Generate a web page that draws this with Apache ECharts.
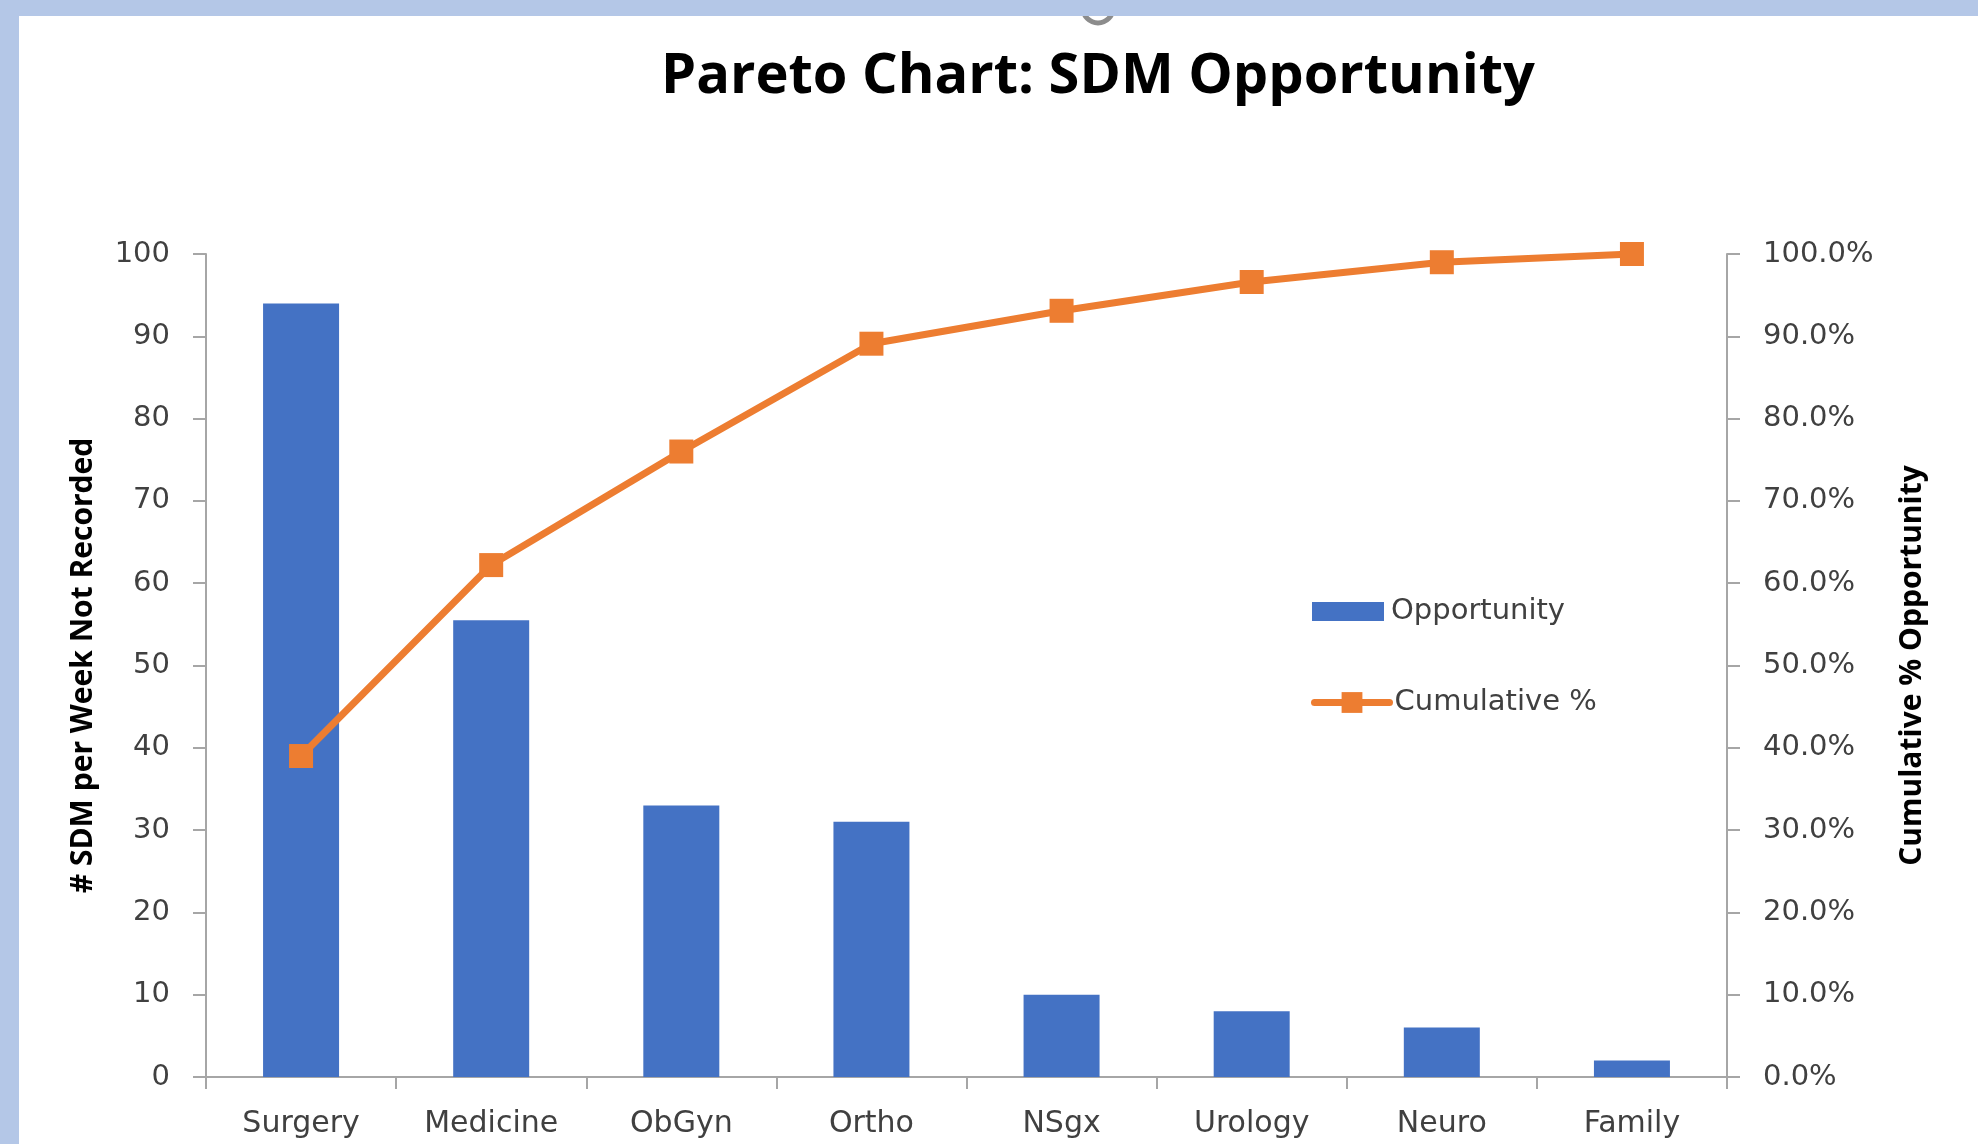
<!DOCTYPE html>
<html>
<head>
<meta charset="utf-8">
<script src="https://cdn.jsdelivr.net/npm/echarts@6/dist/echarts.min.js"></script>
<style>
html,body{margin:0;padding:0;background:#fff;}
#chart{width:1978px;height:1144px;}
</style>
</head>
<body>
<div id="chart"></div>
<script>
const categories = ['Surgery', 'Medicine', 'ObGyn', 'Ortho', 'NSgx', 'Urology', 'Neuro', 'Family'];
const opportunity = [94, 55.5, 33, 31, 10, 8, 6, 2];
const cumulativePct = [39.0, 62.2, 76.0, 89.1, 93.1, 96.6, 99.0, 100.0];
const leftTicks = [0, 10, 20, 30, 40, 50, 60, 70, 80, 90, 100];
const rightTicks = [0, 10, 20, 30, 40, 50, 60, 70, 80, 90, 100];

const axisGray = '#a6a6a6';
const labelColor = '#404040';
const labelFont = 'DejaVu Sans';

const chart = echarts.init(document.getElementById('chart'), null, {renderer: 'canvas'});
chart.setOption({
  backgroundColor: '#ffffff',
  animation: false,
  title: {
    text: 'Pareto Chart: SDM Opportunity',
    left: 656,
    top: 44,
    textStyle: {fontFamily: 'Open Sans', fontWeight: 'bold', fontSize: 56, color: '#000000'}
  },
  graphic: [
    {type: 'circle', shape: {cx: 1098, cy: 8, r: 15}, style: {fill: 'none', stroke: '#8c8c8c', lineWidth: 5}, z: 100},
    {type: 'rect', shape: {x: 0, y: 0, width: 1978, height: 16}, style: {fill: '#B4C7E7'}, z: 101},
    {type: 'rect', shape: {x: 0, y: 0, width: 19, height: 1144}, style: {fill: '#B4C7E7'}, z: 101}
  ],
  legend: [
    {
      data: [{name: 'Opportunity', icon: 'rect'}],
      left: 1307, top: 592,
      itemWidth: 72, itemHeight: 19,
      textStyle: {fontFamily: labelFont, fontSize: 29, color: labelColor, padding: [0, 0, 0, 2]}
    },
    {
      data: ['Cumulative %'],
      left: 1306, top: 683,
      itemWidth: 75, itemHeight: 26,
      lineStyle: {width: 7, cap: 'round', color: '#ED7D31'},
      textStyle: {fontFamily: labelFont, fontSize: 29, color: labelColor, padding: [0, 0, 0, 0]}
    }
  ],
  grid: {left: 206, right: 251, top: 254, bottom: 67, containLabel: false, outerBoundsMode: 'none'},
  xAxis: {
    type: 'category',
    data: categories,
    axisLine: {show: true, lineStyle: {color: axisGray, width: 2}},
    axisTick: {show: true, length: 12, lineStyle: {color: axisGray, width: 2}},
    axisLabel: {fontFamily: labelFont, fontSize: 30, color: labelColor, margin: 32, interval: 0}
  },
  yAxis: [
    {
      type: 'value', min: 0, max: 100, interval: 10,
      name: '# SDM per Week Not Recorded',
      nameLocation: 'middle', nameRotate: 90, nameGap: 108,
      nameTextStyle: {fontFamily: 'Open Sans', fontWeight: 'bold', fontSize: 30, color: '#000000'},
      axisLine: {show: true, lineStyle: {color: axisGray, width: 2}},
      axisTick: {show: true, length: 13, lineStyle: {color: axisGray, width: 2}},
      splitLine: {show: false},
      axisLabel: {fontFamily: labelFont, fontSize: 29, color: labelColor, margin: 36,
        formatter: v => leftTicks.includes(v) ? String(v) : ''}
    },
    {
      type: 'value', min: 0, max: 100, interval: 10, position: 'right',
      name: 'Cumulative % Opportunity',
      nameLocation: 'middle', nameRotate: 90, nameGap: 170,
      nameTextStyle: {fontFamily: 'Open Sans', fontWeight: 'bold', fontSize: 30, color: '#000000'},
      axisLine: {show: true, lineStyle: {color: axisGray, width: 2}},
      axisTick: {show: true, length: 13, lineStyle: {color: axisGray, width: 2}},
      splitLine: {show: false},
      axisLabel: {fontFamily: labelFont, fontSize: 29, color: labelColor, margin: 36,
        formatter: v => rightTicks.includes(v) ? v.toFixed(1) + '%' : ''}
    }
  ],
  series: [
    {
      name: 'Opportunity',
      type: 'bar',
      data: opportunity,
      barWidth: 76,
      itemStyle: {color: '#4472C4'},
      yAxisIndex: 0
    },
    {
      name: 'Cumulative %',
      type: 'line',
      data: cumulativePct,
      yAxisIndex: 1,
      symbol: 'rect',
      symbolSize: 24,
      itemStyle: {color: '#ED7D31'},
      lineStyle: {color: '#ED7D31', width: 7, cap: 'round'},
      z: 5
    }
  ]
});
</script>
</body>
</html>
